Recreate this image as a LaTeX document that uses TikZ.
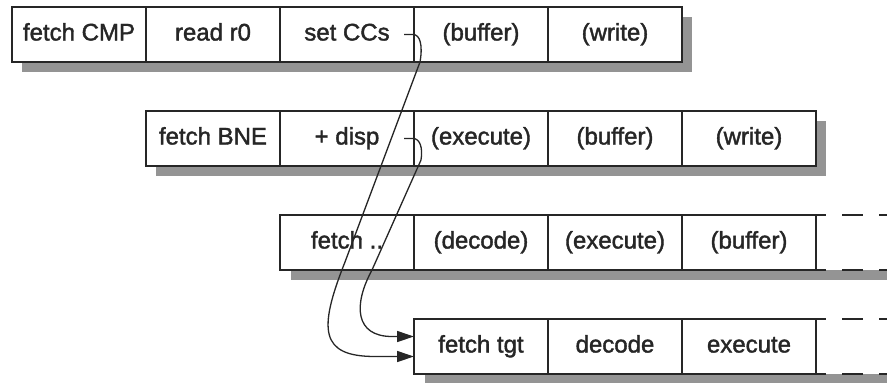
\documentclass[tikz,border=0pt]{standalone}
\usepackage{fontspec}
\setmainfont{Liberation Sans}
\newfontfamily\cellfont[FakeBold=1.6]{Liberation Sans}
\usetikzlibrary{arrows.meta,calc}
\begin{document}
\begin{tikzpicture}[x=1pt,y=-1pt,
  cell/.style={draw=black!85, line width=1.9pt, fill=white, minimum width=134pt,
    minimum height=55pt, inner sep=0pt, outer sep=0pt, text height=17pt, text depth=5pt,
    font=\cellfont\fontsize{24}{28}\selectfont, text=black!85, anchor=north west},
  shadowbox/.style={fill=black!42},
  openend/.style={draw=black!85, line width=1.9pt, dash pattern=on 10pt off 16pt on 21pt off 16pt},
  link/.style={draw=black!85, line width=1.3pt},
  tip/.style={-{Triangle[length=17pt,width=11pt]}}]
\useasboundingbox (0,0) rectangle (887,383);
% shadows
\fill[shadowbox] (22,17) rectangle (692,72);
\fill[shadowbox] (156,121) rectangle (826,176);
\fill[shadowbox] (291,225) rectangle (887,280);
\fill[shadowbox] (425,329) rectangle (887,384);
\fill[white] (816,215) rectangle (887,270);
\fill[white] (816,319) rectangle (887,374);
% row 1
\node[cell] (r1c0) at (12,7) {fetch CMP};
\node[cell] (r1c1) at (146,7) {read r0};
\node[cell] (r1c2) at (280,7) {set CCs};
\node[cell] (r1c3) at (414,7) {(buffer)};
\node[cell] (r1c4) at (548,7) {(write)};
% row 2
\node[cell] (r2c1) at (146,111) {fetch BNE};
\node[cell] (r2c2) at (280,111) {+ disp};
\node[cell] (r2c3) at (414,111) {(execute)};
\node[cell] (r2c4) at (548,111) {(buffer)};
\node[cell] (r2c5) at (682,111) {(write)};
% row 3
\node[cell] (r3c2) at (280,215) {fetch ..};
\node[cell] (r3c3) at (414,215) {(decode)};
\node[cell] (r3c4) at (548,215) {(execute)};
\node[cell] (r3c5) at (682,215) {(buffer)};
% row 4
\node[cell] (r4c3) at (414,319) {fetch tgt};
\node[cell] (r4c4) at (548,319) {decode};
\node[cell] (r4c5) at (682,319) {execute};
% open ends
\coordinate (e3t) at (887,215);
\coordinate (e3b) at (887,270);
\coordinate (e4t) at (887,319);
\coordinate (e4b) at (887,374);
\draw[openend] (r3c5.north east) -- (e3t);
\draw[openend] (r3c5.south east) -- (e3b);
\draw[openend] (r4c5.north east) -- (e4t);
\draw[openend] (r4c5.south east) -- (e4b);
% connectors
\draw[link,tip] ([xshift=-10pt]r1c2.east) -- (413,34.5)
  .. controls (420,34.5) and (423,45) .. (420,62) -- (345,262)
  .. controls (318,330) and (320,356.5) .. (375,356.5) -- ([yshift=-10pt]r4c3.west);
\draw[link,tip] ([xshift=-10pt]r2c2.east) -- (413,138.5)
  .. controls (420,138.5) and (423,148) .. (421,160) -- (372,270)
  .. controls (353,305) and (355,336.5) .. (392,336.5) -- ([yshift=10pt]r4c3.west);
\end{tikzpicture}
\end{document}
